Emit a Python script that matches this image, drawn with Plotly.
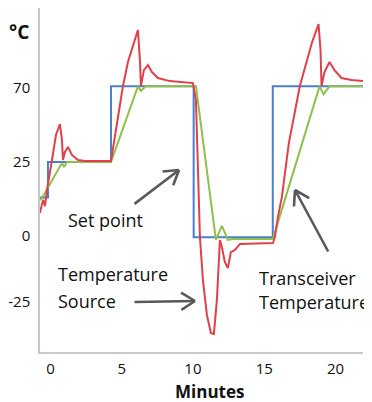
import numpy as np
import plotly.graph_objects as go

# ---- data (minutes, °C) ----
set_t = [-0.73, -0.17, -0.17, 4.25, 4.25, 10.05, 10.05, 15.6, 15.6, 21.93]
set_c = [13, 13, 25, 25, 71, 71, -0.5, -0.5, 71, 71]

trx_t = [-0.73, -0.59, 0.81, 0.95, 1.16, 4.25, 6.14, 6.35, 6.70, 10.21, 11.61, 12.03, 12.45,
         12.80, 15.61, 18.88, 19.16, 19.58, 21.93]
trx_c = [12.2, 12.8, 24.7, 23.3, 25, 25, 71, 68.2, 71, 71, -1.5, 3.4, -1.5,
         -1.1, -1.1, 71, 66.3, 71, 71]

src_t = [-0.73, -0.52, -0.38, -0.24, 0.11, 0.39, 0.67, 0.81, 0.88, 1.02, 1.23, 1.51, 1.94, 2.43,
         4.25, 4.53, 4.81, 5.09, 5.44, 5.79, 6.14, 6.28, 6.35, 6.56, 6.84, 7.12, 7.54, 8.38, 10.00,
         10.21, 10.35, 10.49, 10.70, 10.98, 11.26, 11.47, 11.68, 11.89, 12.03, 12.24, 12.45, 12.66,
         12.95, 13.30, 15.61, 15.75, 15.96, 16.24, 16.73, 17.50, 18.34, 18.81, 18.95, 19.02, 19.23,
         19.58, 19.93, 20.42, 21.12, 21.93]
src_c = [7.8, 12.2, 10.1, 15.5, 26.2, 41.4, 48.1, 38.4, 26.2, 31.1, 34.1, 29.3, 26.2, 25.6,
         25.6, 41.4, 57.8, 71.2, 85.8, 96.1, 105.3, 87, 71.2, 80.9, 84, 79.7, 76.1, 74.2, 73,
         62.7, 26.2, -0.4, -16.7, -29.9, -36.8, -37.1, -24.3, -1.5, -4.2, -9.9, -12.1, -6.1,
         -5.3, -3, -2.7, -0.4, 6.4, 13.2, 36.6, 71.2, 97.4, 108.9, 93.1, 71.2, 79.7,
         85.8, 80.9, 76.1, 74.9, 74.2]

x_ticks = [0, 5, 10, 15, 20]
y_tick_labels = [-25, 0, 25, 70]

# ---- non-uniform temperature axis: equal-ish spacing between labelled levels ----
Y_ANCHOR_C = np.array([-25, 0, 25, 70], dtype=float)
Y_ANCHOR_P = np.array([-22.0, 0.0, 24.67, 49.33])


def to_axis(c):
    c = np.asarray(c, dtype=float)
    lo = Y_ANCHOR_P[0] + (c - Y_ANCHOR_C[0]) * (Y_ANCHOR_P[1] - Y_ANCHOR_P[0]) / (Y_ANCHOR_C[1] - Y_ANCHOR_C[0])
    hi = Y_ANCHOR_P[-1] + (c - Y_ANCHOR_C[-1]) * (Y_ANCHOR_P[-1] - Y_ANCHOR_P[-2]) / (Y_ANCHOR_C[-1] - Y_ANCHOR_C[-2])
    mid = np.interp(c, Y_ANCHOR_C, Y_ANCHOR_P)
    return np.where(c < Y_ANCHOR_C[0], lo, np.where(c > Y_ANCHOR_C[-1], hi, mid))


# page body has an 8px margin; the figure is sized so it fills the rest of the window
OFF = 8
W, H = 372 - OFF, 402 - OFF
ML, MR, MT, MB = 40 - OFF, 9, 0, 50
PW, PH = W - ML - MR, H - MT - MB


def px(x, y):
    """window pixel -> paper coords"""
    return (x - OFF - ML) / PW, (H - MB - (y - OFF)) / PH


FONT = "Open Sans"
GRAY = "#595959"

fig = go.Figure()
fig.add_trace(go.Scatter(x=set_t, y=to_axis(set_c), mode="lines",
                         line=dict(color="#4a7fcf", width=2), name="Set point"))
fig.add_trace(go.Scatter(x=trx_t, y=to_axis(trx_c), mode="lines",
                         line=dict(color="#8fc04c", width=2), name="Transceiver Temperature"))
fig.add_trace(go.Scatter(x=src_t, y=to_axis(src_c), mode="lines",
                         line=dict(color="#e0404a", width=2), name="Temperature Source"))

annotations = []


def text(label, x, y, size=18, bold=False, xanchor="left"):
    xp, yp = px(x, y)
    annotations.append(dict(text=f"<b>{label}</b>" if bold else label, xref="paper", yref="paper",
                            x=xp, y=yp, xanchor=xanchor, yanchor="middle", showarrow=False,
                            font=dict(family=FONT, size=size, color="#111")))


def arrow(tail, head, wing=18, ang=32):
    hx, hy = head
    tx, ty = tail
    xp, yp = px(hx, hy)
    base = dict(text="", xref="paper", yref="paper", x=xp, y=yp, showarrow=True, arrowhead=0,
                arrowwidth=2.6, arrowcolor=GRAY, axref="pixel", ayref="pixel")
    annotations.append(dict(base, ax=tx - hx, ay=ty - hy))
    d = np.array([tx - hx, ty - hy], dtype=float)
    d /= np.hypot(*d)
    for s in (1, -1):
        a = np.radians(ang * s)
        r = np.array([d[0] * np.cos(a) - d[1] * np.sin(a), d[0] * np.sin(a) + d[1] * np.cos(a)])
        annotations.append(dict(base, ax=float(r[0] * wing), ay=float(r[1] * wing)))


text("°C", 19, 32, size=19, bold=True, xanchor="center")
text("Minutes", 209, 391, size=17, bold=True, xanchor="center")
text("Set point", 66, 220)
text("Temperature", 56, 274)
text("Source", 56, 301)
text("Transceiver", 257, 278)
text("Temperature", 257, 302)
arrow((133, 205), (179, 170))
arrow((133, 302), (195, 301))
arrow((329, 253), (295, 190))

fig.update_layout(
    width=W, height=H, margin=dict(l=ML, r=MR, t=MT, b=MB, autoexpand=False),
    paper_bgcolor="white", plot_bgcolor="white", showlegend=False,
    font=dict(family=FONT, size=15, color="#111"),
    annotations=annotations,
)
fig.update_xaxes(range=[-0.73, 21.93], tickvals=x_ticks, ticktext=[str(v) for v in x_ticks],
                 automargin=False,
                 showgrid=False, zeroline=False, showline=True, linecolor="#c8c8c8", linewidth=1.5,
                 ticks="", ticklabelstandoff=2, tickfont=dict(size=15, family=FONT, color="#111"))
fig.update_yaxes(range=[-38.67, 76.0], tickvals=list(to_axis(y_tick_labels)),
                 ticktext=[str(v) for v in y_tick_labels], automargin=False,
                 showgrid=False, zeroline=False, showline=True, linecolor="#c8c8c8", linewidth=1.5,
                 ticks="", ticklabelstandoff=5, tickfont=dict(size=15, family=FONT, color="#111"))

fig.write_html("out.html")
